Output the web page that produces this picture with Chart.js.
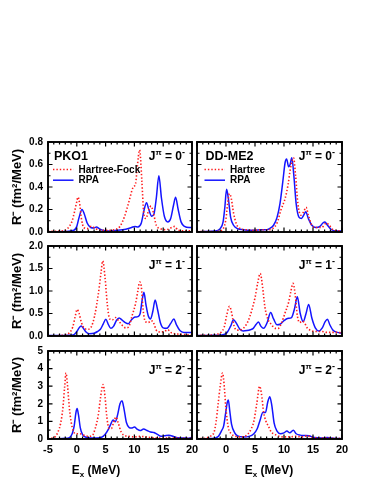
<!DOCTYPE html>
<html>
<head>
<meta charset="utf-8">
<script src="https://cdn.jsdelivr.net/npm/chart.js@4.4.0/dist/chart.umd.min.js"></script>
<style>
  body { margin: 0; background: #fff; }
  #wrap { position: relative; width: 374px; height: 484px; overflow: hidden; background: #fff; }
  #wrap canvas { position: absolute; }
  .xtitle {
    position: absolute; width: 100px; text-align: center; line-height: 14px;
    font: bold 12px 'Liberation Sans', Arial, sans-serif; color: #000;
  }
  .xtitle sub { font-size: 8px; vertical-align: -3px; line-height: 0; }
</style>
</head>
<body>
<div id="wrap">
  <canvas id="pko1J0" width="200" height="110" style="left:0;top:130px"></canvas>
  <canvas id="ddme2J0" width="178" height="110" style="left:196px;top:130px"></canvas>
  <canvas id="pko1J1" width="200" height="100" style="left:0;top:240px"></canvas>
  <canvas id="ddme2J1" width="178" height="100" style="left:196px;top:240px"></canvas>
  <canvas id="pko1J2" width="200" height="144" style="left:0;top:340px"></canvas>
  <canvas id="ddme2J2" width="178" height="144" style="left:196px;top:340px"></canvas>
  <div class="xtitle" style="left:46px;top:463px">E<sub>x</sub> (MeV)</div>
  <div class="xtitle" style="left:219px;top:463px">E<sub>x</sub> (MeV)</div>
</div>
<script>
// excitation energy axis (MeV)
const energyTicks = [-5, 0, 5, 10, 15, 20];

// y tick values per row
const yTicksJ0 = [0.0, 0.2, 0.4, 0.6, 0.8];
const yTicksJ1 = [0.0, 0.5, 1.0, 1.5, 2.0];
const yTicksJ2 = [0, 1, 2, 3, 4, 5];

// PKO1, J = 0-
const pko1HfJ0 = [[-5,0.005],[-3,0.008],[-2,0.015],[-1.3,0.05],[-0.8,0.1],[-0.4,0.18],[0,0.27],[0.2,0.31],[0.5,0.25],[0.8,0.12],[1.2,0.04],[1.8,0.03],[2.5,0.05],[3,0.04],[3.7,0.02],[5,0.015],[6.5,0.02],[7.5,0.05],[8.3,0.14],[9,0.26],[9.8,0.4],[10.2,0.43],[10.5,0.58],[10.9,0.73],[11.3,0.45],[11.6,0.18],[12,0.12],[12.5,0.2],[12.9,0.23],[13.3,0.17],[13.8,0.06],[14.5,0.03],[15.5,0.02],[16.5,0.04],[17,0.05],[17.5,0.02],[18.5,0.01],[20,0.01]];
const pko1RpaJ0 = [[-5,0.002],[-2,0.005],[-0.5,0.015],[0,0.05],[0.4,0.13],[0.9,0.2],[1.3,0.16],[1.8,0.08],[2.4,0.04],[3,0.035],[3.4,0.045],[3.9,0.03],[4.5,0.015],[5.5,0.01],[7,0.015],[8.5,0.025],[9.5,0.04],[10.1,0.05],[10.6,0.045],[11.2,0.08],[11.7,0.2],[12.1,0.26],[12.5,0.2],[13,0.14],[13.4,0.16],[13.8,0.3],[14.25,0.5],[14.7,0.3],[15.2,0.14],[15.8,0.09],[16.3,0.12],[16.8,0.24],[17.15,0.31],[17.6,0.2],[18.1,0.09],[18.7,0.05],[19.5,0.04],[20,0.04]];

// DD-ME2, J = 0-
const ddme2HJ0 = [[-5,0.003],[-2,0.005],[-1,0.01],[-0.3,0.05],[0,0.12],[0.3,0.26],[0.6,0.34],[0.9,0.3],[1.3,0.17],[1.8,0.07],[2.5,0.03],[3.5,0.02],[5,0.015],[6,0.02],[7,0.02],[8,0.03],[8.8,0.08],[9.5,0.2],[10.2,0.3],[10.7,0.42],[11.1,0.56],[11.65,0.66],[12,0.5],[12.4,0.25],[12.9,0.15],[13.4,0.18],[13.8,0.22],[14.2,0.15],[14.8,0.06],[15.5,0.04],[16.5,0.04],[17.3,0.08],[17.8,0.06],[18.5,0.02],[20,0.01]];
const ddme2RpaJ0 = [[-5,0.003],[-2,0.008],[-1,0.03],[-0.5,0.09],[-0.2,0.22],[0.1,0.38],[0.4,0.3],[0.8,0.13],[1.3,0.06],[2,0.03],[3,0.02],[4,0.015],[5,0.015],[6,0.02],[7,0.02],[7.5,0.03],[8.2,0.06],[8.8,0.13],[9.3,0.25],[9.8,0.45],[10.2,0.62],[10.45,0.65],[10.8,0.58],[11.05,0.6],[11.35,0.66],[11.7,0.5],[12.1,0.25],[12.6,0.13],[13,0.12],[13.4,0.15],[13.75,0.18],[14.2,0.12],[14.8,0.06],[15.5,0.04],[16.2,0.05],[16.7,0.08],[17.05,0.09],[17.5,0.06],[18.2,0.02],[19,0.01],[20,0.01]];

// PKO1, J = 1-
const pko1HfJ1 = [[-5,0.005],[-3,0.01],[-2,0.03],[-1.3,0.07],[-0.7,0.2],[-0.3,0.42],[0.05,0.59],[0.4,0.5],[0.8,0.3],[1.3,0.17],[1.9,0.15],[2.5,0.2],[3.1,0.45],[3.7,0.9],[4.2,1.4],[4.5,1.67],[4.9,1.3],[5.3,0.7],[5.7,0.38],[6.2,0.36],[6.7,0.41],[7.2,0.35],[7.8,0.25],[8.5,0.18],[9,0.2],[9.6,0.45],[10.2,0.72],[10.6,1.0],[10.9,1.2],[11.2,1.1],[11.5,0.6],[11.9,0.32],[12.4,0.3],[12.9,0.34],[13.3,0.3],[13.8,0.13],[14.5,0.09],[15.2,0.1],[15.8,0.14],[16.3,0.08],[17,0.05],[18,0.04],[19,0.03],[20,0.02]];
const pko1RpaJ1 = [[-5,0.01],[-3,0.01],[-1.5,0.015],[-0.5,0.03],[0,0.1],[0.4,0.18],[0.75,0.22],[1.1,0.18],[1.6,0.09],[2.2,0.05],[3,0.06],[3.6,0.1],[4.1,0.15],[4.6,0.27],[5.05,0.37],[5.5,0.25],[5.9,0.17],[6.4,0.22],[6.9,0.35],[7.35,0.4],[7.9,0.35],[8.5,0.29],[8.9,0.27],[9.5,0.36],[10.1,0.42],[10.6,0.43],[11,0.5],[11.35,0.8],[11.65,0.97],[12,0.7],[12.4,0.45],[12.8,0.38],[13.2,0.55],[13.6,0.8],[14,0.6],[14.5,0.3],[15,0.18],[15.6,0.17],[16.3,0.28],[16.85,0.38],[17.3,0.25],[17.9,0.12],[18.6,0.08],[20,0.08]];

// DD-ME2, J = 1-
const ddme2HJ1 = [[-5,0.01],[-3,0.02],[-1.5,0.04],[-0.8,0.09],[-0.3,0.2],[0.1,0.45],[0.6,0.66],[1,0.5],[1.4,0.22],[1.9,0.13],[2.6,0.14],[3.2,0.2],[3.8,0.33],[4.4,0.55],[5,0.85],[5.5,1.2],[5.9,1.39],[6.3,1.1],[6.7,0.65],[7.2,0.38],[7.8,0.26],[8.5,0.17],[9,0.17],[9.6,0.3],[10.2,0.52],[10.8,0.75],[11.2,1.0],[11.55,1.17],[11.9,0.95],[12.3,0.45],[12.7,0.3],[13.1,0.33],[13.5,0.3],[14,0.18],[14.7,0.12],[15.5,0.1],[16.5,0.1],[17.5,0.08],[19,0.08],[20,0.07]];
const ddme2RpaJ1 = [[-5,0.01],[-2,0.015],[-0.5,0.03],[0.2,0.08],[0.8,0.22],[1.3,0.36],[1.8,0.28],[2.4,0.15],[3,0.11],[3.6,0.12],[4.2,0.14],[4.7,0.17],[5.2,0.26],[5.6,0.31],[6,0.22],[6.5,0.17],[7.1,0.3],[7.7,0.52],[8.2,0.38],[8.8,0.25],[9.3,0.26],[10,0.34],[10.6,0.39],[11.3,0.41],[11.8,0.6],[12.3,0.87],[12.8,0.5],[13.3,0.32],[13.8,0.5],[14.25,0.7],[14.8,0.4],[15.4,0.18],[16,0.11],[16.6,0.18],[17.1,0.32],[17.5,0.37],[17.9,0.25],[18.5,0.12],[19.2,0.08],[20,0.06]];

// PKO1, J = 2-
const pko1HfJ2 = [[-5,0.02],[-4.3,0.05],[-3.7,0.15],[-3.2,0.45],[-2.8,0.9],[-2.4,1.8],[-2.1,3.0],[-1.87,3.75],[-1.6,3.0],[-1.3,1.8],[-1,1.0],[-0.6,0.45],[-0.1,0.3],[0.5,0.3],[1.2,0.22],[2,0.15],[2.7,0.2],[3.2,0.6],[3.7,1.3],[4.1,2.3],[4.55,3.1],[4.9,2.4],[5.2,1.3],[5.6,0.6],[6,0.6],[6.4,0.95],[6.8,1.25],[7.2,0.9],[7.7,0.4],[8.3,0.2],[9,0.15],[10,0.12],[11,0.15],[12,0.12],[13,0.08],[14,0.06],[15,0.06],[16,0.05],[17.5,0.05],[20,0.03]];
const pko1RpaJ2 = [[-5,0.01],[-3,0.02],[-2,0.04],[-1.3,0.08],[-0.8,0.3],[-0.45,0.75],[-0.15,1.5],[0.05,1.73],[0.3,1.35],[0.6,0.65],[1,0.25],[1.6,0.1],[2.5,0.06],[3.5,0.06],[4.3,0.1],[4.9,0.25],[5.4,0.5],[5.9,0.85],[6.3,1.08],[6.7,0.98],[7.1,1.4],[7.5,2.0],[7.85,2.17],[8.2,1.7],[8.6,0.95],[9.1,0.65],[9.5,0.62],[10,0.68],[10.5,0.55],[11,0.48],[11.6,0.57],[12.2,0.48],[12.8,0.4],[13.4,0.37],[14,0.26],[14.6,0.16],[15.2,0.18],[16,0.22],[16.8,0.14],[17.5,0.07],[18.5,0.06],[19.3,0.04],[20,0.1]];

// DD-ME2, J = 2-
const ddme2HJ2 = [[-5,0.02],[-3.5,0.04],[-2.8,0.15],[-2.1,0.35],[-1.7,1.0],[-1.37,1.95],[-1,3.0],[-0.6,3.75],[-0.3,3.0],[-0.05,1.85],[0.4,0.65],[0.9,0.3],[1.4,0.18],[2.2,0.12],[3,0.12],[3.8,0.3],[4.3,0.55],[4.8,1.0],[5.3,2.0],[5.8,3.0],[6.1,2.6],[6.5,1.5],[6.9,1.0],[7.35,0.7],[7.8,0.4],[8.5,0.25],[9.2,0.15],[10,0.12],[11,0.12],[12,0.15],[13,0.12],[14,0.18],[14.7,0.1],[16,0.06],[17.5,0.05],[20,0.03]];
const ddme2RpaJ2 = [[-5,0.01],[-3,0.02],[-2,0.05],[-1.3,0.15],[-0.8,0.45],[-0.4,0.75],[-0.05,1.5],[0.2,2.05],[0.4,2.22],[0.65,1.6],[0.95,0.85],[1.5,0.35],[2,0.18],[3,0.12],[4,0.15],[4.8,0.3],[5.4,0.6],[5.9,1.1],[6.35,1.5],[6.8,1.5],[7.2,2.1],[7.55,2.4],[7.9,1.9],[8.3,0.9],[8.8,0.45],[9.4,0.3],[10,0.35],[10.5,0.45],[11,0.35],[11.6,0.5],[12.1,0.3],[12.8,0.22],[13.5,0.2],[14.3,0.18],[15.2,0.08],[16.5,0.06],[17.5,0.08],[18.5,0.04],[20,0.02]];

const FONT = "'Liberation Sans', Arial, Helvetica, sans-serif";
const RED = '#ff1a1a';
const BLUE = '#1414ff';

Chart.defaults.font.family = FONT;
Chart.defaults.font.weight = 'bold';
Chart.defaults.color = '#000';

// frame + inward ticks on all four sides
const frameTicks = {
    id: 'frameTicks',
    afterDatasetsDraw(chart, args, opts) {
        const { ctx, chartArea: a, scales: { x, y } } = chart;
        ctx.save();
        ctx.strokeStyle = '#000';
        ctx.lineWidth = 1.2;
        ctx.beginPath();
        for (let v = x.min; v <= x.max; v += 1) {
            const px = x.getPixelForValue(v);
            const len = v % 5 === 0 ? 4.5 : 2.5;
            ctx.moveTo(px, a.bottom); ctx.lineTo(px, a.bottom - len);
            ctx.moveTo(px, a.top); ctx.lineTo(px, a.top + len);
        }
        const n = Math.round((y.max - y.min) / opts.minor);
        for (let i = 0; i <= n; i++) {
            const py = y.getPixelForValue(y.min + i * opts.minor);
            const len = i % 2 === 0 ? 4.5 : 2.5;
            ctx.moveTo(a.left, py); ctx.lineTo(a.left + len, py);
            ctx.moveTo(a.right, py); ctx.lineTo(a.right - len, py);
        }
        ctx.stroke();
        ctx.lineWidth = 1.9;
        ctx.strokeRect(a.left, a.top, a.right - a.left, a.bottom - a.top);
        ctx.restore();
    }
};

// model name, J^pi label and the small legend inside each panel
const panelText = {
    id: 'panelText',
    afterDraw(chart, args, o) {
        const { ctx, chartArea: a } = chart;
        ctx.save();
        ctx.fillStyle = '#000';
        ctx.textBaseline = 'alphabetic';

        const parts = [['J', 12, 0], ['\u03c0', 8, -5], [' = ' + o.j, 12, 0], ['-', 9, -5]];
        let total = 0;
        parts.forEach(p => { ctx.font = `bold ${p[1]}px ${FONT}`; total += ctx.measureText(p[0]).width; });
        let px = a.right - 7 - total;
        const base = a.top + o.jY;
        parts.forEach(p => {
            ctx.font = `bold ${p[1]}px ${FONT}`;
            ctx.fillText(p[0], px, base + p[2]);
            px += ctx.measureText(p[0]).width;
        });

        if (o.name) {
            ctx.font = `bold 12.5px ${FONT}`;
            ctx.fillText(o.name, a.left + o.off + 1, a.top + 17.5);
            ctx.font = `bold 10px ${FONT}`;
            ctx.textBaseline = 'middle';
            chart.data.datasets.forEach((ds, i) => {
                const ly = a.top + 27.5 + i * 10.7;
                ctx.strokeStyle = ds.borderColor;
                ctx.lineWidth = ds.borderWidth;
                ctx.setLineDash(ds.borderDash || []);
                ctx.beginPath();
                ctx.moveTo(a.left + o.off, ly);
                ctx.lineTo(a.left + o.off + 20.5, ly);
                ctx.stroke();
                ctx.fillText(ds.label, a.left + o.off + 25.5, ly + 0.5);
            });
        }
        ctx.restore();
    }
};

function makePanel(id, cfg) {
    const left = cfg.col === 0;
    const yTicks = cfg.yTicks;
    const yMax = yTicks[yTicks.length - 1];
    const yStep = yTicks[1] - yTicks[0];

    new Chart(document.getElementById(id), {
        type: 'line',
        data: {
            datasets: [{
                label: cfg.hfLabel,
                data: cfg.hf,
                borderColor: RED,
                borderWidth: 1.6,
                borderDash: [1.4, 2.0],
                pointRadius: 0,
                cubicInterpolationMode: 'monotone',
                fill: false
            }, {
                label: 'RPA',
                data: cfg.rpa,
                borderColor: BLUE,
                borderWidth: 1.5,
                pointRadius: 0,
                cubicInterpolationMode: 'monotone',
                fill: false
            }]
        },
        options: {
            responsive: false,
            animation: false,
            devicePixelRatio: 1,
            layout: { padding: { top: cfg.padTop, right: left ? 8 : 32, left: 0, bottom: 0 } },
            plugins: {
                legend: { display: false },
                tooltip: { enabled: false },
                frameTicks: { minor: yStep / 2 },
                panelText: { j: cfg.j, jY: cfg.jY, name: cfg.name, off: left ? 5 : 7.5 }
            },
            scales: {
                x: {
                    type: 'linear',
                    min: energyTicks[0],
                    max: energyTicks[energyTicks.length - 1],
                    grid: { display: false, drawTicks: false },
                    border: { display: false },
                    afterBuildTicks: s => { s.ticks = energyTicks.map(v => ({ value: v })); },
                    ticks: {
                        display: !!cfg.bottom,
                        autoSkip: false,
                        maxRotation: 0,
                        padding: 4,
                        font: { size: 11, weight: 'bold' },
                        callback: v => (!left && v === -5) ? '' : String(v)
                    },
                    afterFit: s => { s.height = cfg.xH; s.paddingLeft = 0; s.paddingRight = 0; }
                },
                y: {
                    min: 0,
                    max: yMax,
                    grid: { display: false, drawTicks: false },
                    border: { display: false },
                    afterBuildTicks: s => { s.ticks = yTicks.map(v => ({ value: v })); },
                    ticks: {
                        display: left,
                        autoSkip: false,
                        padding: 5,
                        font: { size: 10, weight: 'bold' },
                        callback: v => v.toFixed(cfg.dec)
                    },
                    title: {
                        display: left,
                        text: 'R\u207b (fm\u00b2/MeV)',
                        font: { size: 13, weight: 'bold' },
                        padding: { top: 10, bottom: 0 }
                    },
                    afterFit: s => { s.width = left ? 48 : 1; s.paddingTop = 0; s.paddingBottom = 0; }
                }
            }
        },
        plugins: [frameTicks, panelText]
    });
}

makePanel('pko1J0', { col: 0, hf: pko1HfJ0, rpa: pko1RpaJ0, hfLabel: 'Hartree-Fock', name: 'PKO1', j: '0', jY: 18, yTicks: yTicksJ0, dec: 1, padTop: 12, xH: 8 });
makePanel('ddme2J0', { col: 1, hf: ddme2HJ0, rpa: ddme2RpaJ0, hfLabel: 'Hartree', name: 'DD-ME2', j: '0', jY: 18, yTicks: yTicksJ0, dec: 1, padTop: 12, xH: 8 });
makePanel('pko1J1', { col: 0, hf: pko1HfJ1, rpa: pko1RpaJ1, hfLabel: 'Hartree-Fock', j: '1', jY: 22.5, yTicks: yTicksJ1, dec: 1, padTop: 6, xH: 4 });
makePanel('ddme2J1', { col: 1, hf: ddme2HJ1, rpa: ddme2RpaJ1, hfLabel: 'Hartree', j: '1', jY: 22.5, yTicks: yTicksJ1, dec: 1, padTop: 6, xH: 4 });
makePanel('pko1J2', { col: 0, hf: pko1HfJ2, rpa: pko1RpaJ2, hfLabel: 'Hartree-Fock', j: '2', jY: 22.5, yTicks: yTicksJ2, dec: 0, padTop: 11, xH: 45, bottom: true });
makePanel('ddme2J2', { col: 1, hf: ddme2HJ2, rpa: ddme2RpaJ2, hfLabel: 'Hartree', j: '2', jY: 22.5, yTicks: yTicksJ2, dec: 0, padTop: 11, xH: 45, bottom: true });
</script>
</body>
</html>
